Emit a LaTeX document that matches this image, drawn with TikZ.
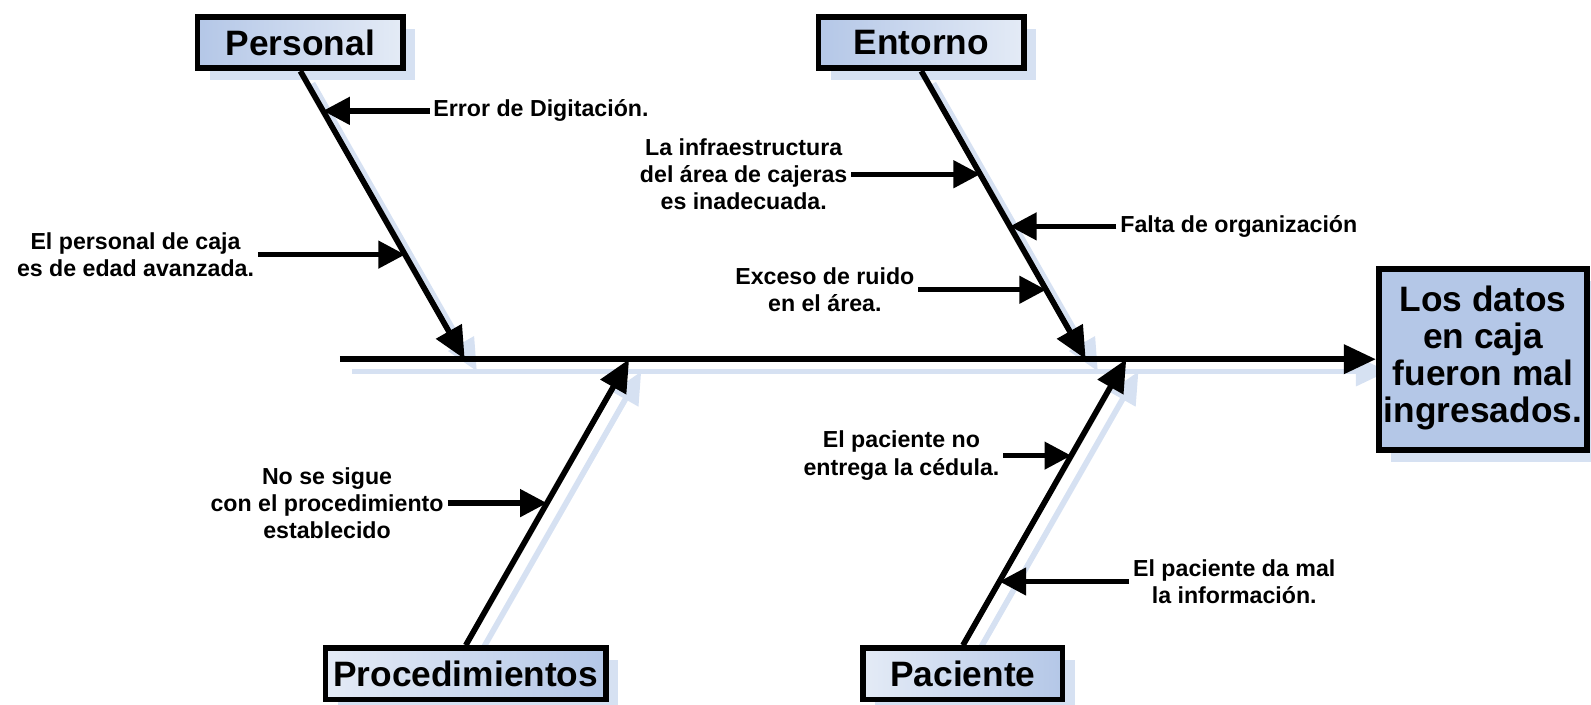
\documentclass[tikz,border=0pt]{standalone}
\usepackage{fontspec}
\setmainfont{Liberation Sans}
\usetikzlibrary{arrows.meta,shadows,positioning}

\definecolor{cajaoscuro}{RGB}{180,199,231}
\definecolor{cajaclaro}{RGB}{228,235,246}
\definecolor{sombra}{RGB}{214,225,242}

\pgfdeclarelayer{fondo}
\pgfsetlayers{fondo,main}

\tikzset{
  categoria/.style={draw=black, line width=3.2pt, inner sep=0pt,
    font=\fontsize{19.8}{20.6}\selectfont\bfseries, minimum height=1.01cm,
    drop shadow={shadow xshift=0.24cm, shadow yshift=-0.24cm, fill=sombra, opacity=1}},
  arriba/.style={categoria, left color=cajaoscuro, right color=cajaclaro},
  abajo/.style={categoria, left color=cajaclaro, right color=cajaoscuro},
  espina/.style={line width=3.2pt, -{Triangle[length=18pt,width=16pt]}},
  sombraespina/.style={espina, draw=sombra, fill=sombra},
  causa/.style={font=\fontsize{13}{15.3}\selectfont\bfseries, align=center, inner sep=2pt},
  flecha/.style={line width=3pt, -{Triangle[length=15pt,width=15pt]}}
}

\begin{document}
\begin{tikzpicture}[x=0.02cm,y=-0.02cm]
\useasboundingbox (0,0) rectangle (1568,694);

%---------------------------------------------------
% categorias y efecto
\node[arriba, minimum width=4.05cm] (personal) at (296,42) {Personal};
\node[arriba, minimum width=4.05cm] (entorno)  at (908,42) {Entorno};
\node[abajo,  minimum width=5.53cm] (proced)   at (459,664) {Procedimientos};
\node[abajo,  minimum width=3.93cm] (paciente) at (949,664) {Paciente};
\node[categoria, fill=cajaoscuro, align=center, minimum width=4.11cm, minimum height=3.57cm]
  (efecto) at (1461.5,354) {Los datos\\ en caja\\ fueron mal\\ ingresados.\\[-15pt]\mbox{}};

\coordinate (cola) at (335,354);
\coordinate (s1) at (458,354);
\coordinate (s2) at (1070,354);
\coordinate (s3) at (620,354);
\coordinate (s4) at (1110,354);

%---------------------------------------------------
% sombras
\begin{pgfonlayer}{fondo}
\draw[sombraespina] ([xshift=0.24cm,yshift=-0.24cm]cola) -- ([xshift=0.24cm,yshift=-0.24cm]efecto.west);
\draw[sombraespina] ([xshift=0.24cm,yshift=-0.24cm]personal.south) -- ([xshift=0.24cm,yshift=-0.24cm]s1);
\draw[sombraespina] ([xshift=0.24cm,yshift=-0.24cm]entorno.south) -- ([xshift=0.24cm,yshift=-0.24cm]s2);
\draw[sombraespina] ([xshift=0.24cm,yshift=-0.24cm]proced.north) -- ([xshift=0.24cm,yshift=-0.24cm]s3);
\draw[sombraespina] ([xshift=0.24cm,yshift=-0.24cm]paciente.north) -- ([xshift=0.24cm,yshift=-0.24cm]s4);
\end{pgfonlayer}

%---------------------------------------------------
% espinas
\draw[espina] (cola) -- (efecto.west);
\draw[espina] (personal.south) -- coordinate[pos=0.138] (p1) coordinate[pos=0.637] (p2) (s1);
\draw[espina] (entorno.south) -- coordinate[pos=0.358] (e1) coordinate[pos=0.539] (e2)
  coordinate[pos=0.759] (e3) (s2);
\draw[espina] (proced.north) -- coordinate[pos=0.497] (r1) (s3);
\draw[espina] (paciente.north) -- coordinate[pos=0.663] (q1) coordinate[pos=0.223] (q2) (s4);

%---------------------------------------------------
% causas
\node[causa, right=2.1cm of p1] (error) {Error de Digitación.};
\node[causa, left=2.9cm of p2] (edad) {El personal de caja\\ es de edad avanzada.};
\node[causa, left=2.54cm of e1] (infra) {La infraestructura\\ del área de cajeras\\ es inadecuada.};
\node[causa, right=2.1cm of e2] (falta) {Falta de organización};
\node[causa, left=2.52cm of e3] (ruido) {Exceso de ruido\\ en el área.};
\node[causa, left=1.96cm of r1] (sigue) {No se sigue\\ con el procedimiento\\ establecido};
\node[causa, left=1.34cm of q1] (cedula) {El paciente no\\ entrega la cédula.};
\node[causa, right=2.56cm of q2] (info) {El paciente da mal\\ la información.};

\draw[flecha] (error.west) -- (p1);
\draw[flecha] (edad.east) -- (p2);
\draw[flecha] (infra.east) -- (e1);
\draw[flecha] (falta.west) -- (e2);
\draw[flecha] (ruido.east) -- (e3);
\draw[flecha] (sigue.east) -- (r1);
\draw[flecha] (cedula.east) -- (q1);
\draw[flecha] (info.west) -- (q2);

\end{tikzpicture}
\end{document}
